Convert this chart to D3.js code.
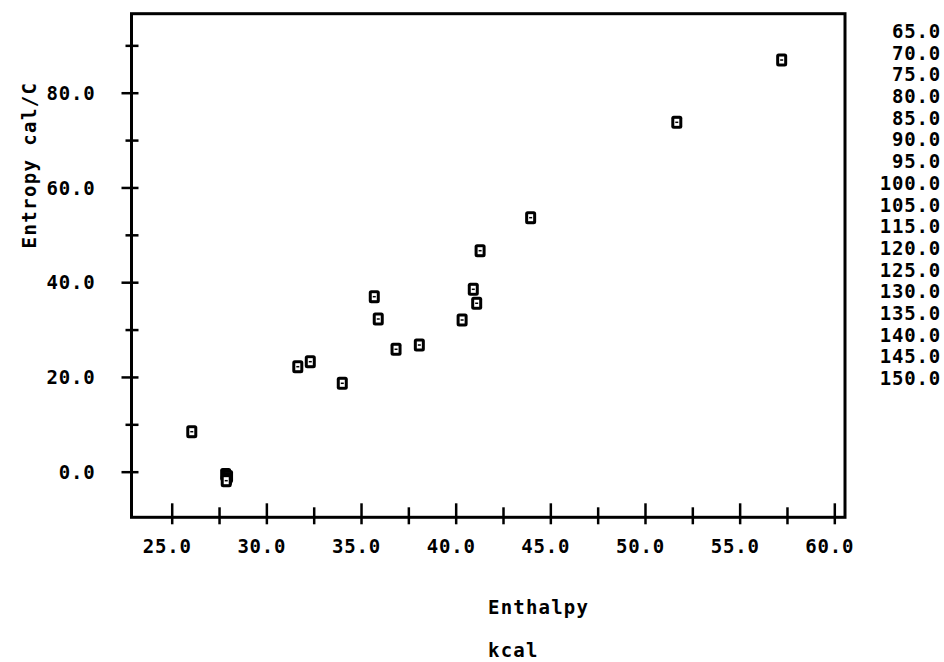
<!DOCTYPE html>
<html>
<head>
<meta charset="utf-8">
<script src="https://cdn.jsdelivr.net/npm/d3@7"></script>
<style>
  html, body { margin: 0; padding: 0; background: #fff; }
  svg { display: block; }
  text { font-family: "DejaVu Sans Mono", monospace; font-weight: bold; fill: #000; }
</style>
</head>
<body>
<svg id="chart" width="944" height="662"></svg>
<script>
// ---- data ----
const enthalpy = [26.06, 27.85, 27.95, 27.9, 27.88, 31.66, 32.32, 34.01, 35.70, 35.91, 36.85, 38.08, 40.34, 40.93, 41.11, 41.29, 43.96, 51.68, 57.22];
const entropy  = [8.44, -0.6, -1.0, -1.5, -1.9, 22.16, 23.22, 18.66, 36.94, 32.23, 25.84, 26.74, 32.02, 38.50, 35.55, 46.65, 53.62, 73.75, 86.90];
const xMajorTicks = [25, 30, 35, 40, 45, 50, 55, 60];
const xMinorTicks = [27.5, 32.5, 37.5, 42.5, 47.5, 52.5, 57.5];
const yMajorTicks = [0, 20, 40, 60, 80];
const yMinorTicks = [10, 30, 50, 70, 90];
const sideList = ["65.0", "70.0", "75.0", "80.0", "85.0", "90.0", "95.0", "100.0", "105.0", "115.0", "120.0", "125.0", "130.0", "135.0", "140.0", "145.0", "150.0"];
const xTitle = "Enthalpy";
const xUnit = "kcal";
const yTitle = "Entropy cal/C";

// ---- layout ----
const svg = d3.select("#chart");
const L = 131.5, R = 845, T = 13.7, B = 517.3;
const FS = "19px", LS = "0.8px";

const x = d3.scaleLinear().domain([22.876, 60.565]).range([L, R]);
const y = d3.scaleLinear().domain([-9.63, 96.68]).range([B, T]);

// frame
svg.append("rect")
  .attr("x", L).attr("y", T).attr("width", R - L).attr("height", B - T)
  .attr("fill", "none").attr("stroke", "#000").attr("stroke-width", 3);

// x axis
const fmt = d3.format(".1f");
const gx = svg.append("g").attr("transform", `translate(0,${B})`);
gx.call(d3.axisBottom(x).tickValues(xMajorTicks).tickFormat(fmt).tickSizeInner(7).tickSizeOuter(0));
gx.select(".domain").remove();
gx.selectAll(".tick line").attr("y1", -14).attr("y2", 7).attr("stroke", "#000").attr("stroke-width", 2.5);
gx.selectAll(".tick text")
  .attr("y", 36).attr("dy", null).attr("dx", -5)
  .style("font-size", FS).style("letter-spacing", LS)
  .attr("font-family", null);
const gxm = svg.append("g").attr("transform", `translate(0,${B})`);
gxm.call(d3.axisBottom(x).tickValues(xMinorTicks).tickFormat("").tickSizeInner(7).tickSizeOuter(0));
gxm.select(".domain").remove();
gxm.selectAll(".tick line").attr("y1", -10).attr("y2", 7).attr("stroke", "#000").attr("stroke-width", 2.5);

// y axis
const gy = svg.append("g").attr("transform", `translate(${L},0)`);
gy.call(d3.axisLeft(y).tickValues(yMajorTicks).tickFormat(fmt).tickSizeInner(10).tickSizeOuter(0));
gy.select(".domain").remove();
gy.selectAll(".tick line").attr("x1", 7).attr("x2", -10).attr("stroke", "#000").attr("stroke-width", 2.5);
gy.selectAll(".tick text")
  .attr("x", -36).attr("dy", "0.35em")
  .style("font-size", FS).style("letter-spacing", LS)
  .attr("font-family", null);
const gym = svg.append("g").attr("transform", `translate(${L},0)`);
gym.call(d3.axisLeft(y).tickValues(yMinorTicks).tickFormat("").tickSizeInner(6).tickSizeOuter(0));
gym.select(".domain").remove();
gym.selectAll(".tick line").attr("x1", 7).attr("x2", -6).attr("stroke", "#000").attr("stroke-width", 2.5);

// titles
svg.append("text").attr("x", 488).attr("y", 614)
  .style("font-size", FS).style("letter-spacing", "1.2px").text(xTitle);
svg.append("text").attr("x", 488).attr("y", 657)
  .style("font-size", FS).style("letter-spacing", "1.2px").text(xUnit);
svg.append("text")
  .attr("transform", "translate(36,165) rotate(-90)")
  .attr("text-anchor", "middle")
  .style("font-size", FS).style("letter-spacing", "1.4px").text(yTitle);

// side list
const ys = d3.scalePoint().domain(sideList).range([38, 385]);
svg.append("g").selectAll("text").data(sideList).join("text")
  .attr("x", 941).attr("y", d => ys(d)).attr("text-anchor", "end")
  .style("font-size", FS).style("letter-spacing", LS)
  .text(d => d);

// points
const pts = enthalpy.map((v, i) => ({ x: v, y: entropy[i] }));
const gp = svg.append("g").selectAll("g").data(pts).join("g")
  .attr("transform", d => `translate(${x(d.x)},${y(d.y)})`);
gp.append("rect").attr("x", -5.5).attr("y", -6.5).attr("width", 11).attr("height", 13).attr("rx", 2.5).attr("fill", "#000");
gp.append("rect").attr("x", -2.5).attr("y", -3.5).attr("width", 5).attr("height", 7).attr("fill", "#fff");
gp.append("rect").attr("x", -1.5).attr("y", -0.75).attr("width", 3).attr("height", 1.5).attr("fill", "#000");
</script>
</body>
</html>
